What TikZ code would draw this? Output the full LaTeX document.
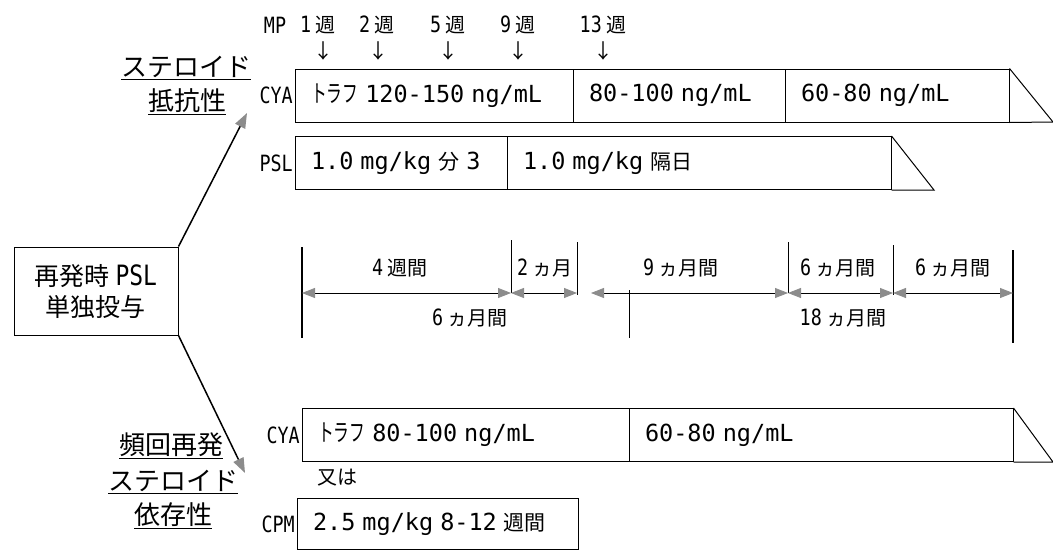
\documentclass[tikz,border=0pt]{standalone}
\usepackage{fontspec}
\usepackage{graphicx}
\setmainfont{Noto Sans CJK JP}
\newfontfamily\hw{DejaVu Sans Mono}[Scale=1.12]
\newfontfamily\hwn{DejaVu Sans Mono}[FakeStretch=0.82,Scale=1.12]
\newcommand{\narrowkana}[1]{\scalebox{0.75}[1.15]{#1}}
\usepackage{xcolor}
\definecolor{Col1}{RGB}{0,0,0}
\definecolor{Col2}{RGB}{140,140,140}
\usetikzlibrary{arrows.meta}
\tikzstyle{Cell}=[draw=Col1,line width=1pt,inner xsep=16pt,inner ysep=0pt,
align=left,minimum height=53pt,font=\fontsize{21}{24}\selectfont]
\tikzstyle{Edge}=[draw=Col1,line width=1pt]
\tikzstyle{Drug}=[anchor=east,inner sep=1.5pt,font=\fontsize{20}{22}\selectfont\hwn]
\tikzstyle{Week}=[inner sep=0pt,font=\fontsize{20}{22}\selectfont]
\tikzstyle{Span}=[inner sep=0pt,font=\fontsize{20}{22}\selectfont]
\tikzstyle{Group}=[inner sep=0pt,font=\fontsize{26}{30}\selectfont]
\tikzstyle{Dim}=[draw=Col1,line width=.8pt,
{Triangle[length=13pt,width=10pt,color=Col2]}-{Triangle[length=13pt,width=10pt,color=Col2]}]
\tikzstyle{Branch}=[draw=Col1,line width=1.5pt,-{Triangle[length=15pt,width=11pt,color=Col2]}]

\begin{document}
\begin{tikzpicture}[x=1pt,y=-1pt]
        \useasboundingbox(0,0)rectangle(1053,552);
        \node[Week](mp)at(275,25){\hwn MP};
        \node[Week](w1)at(318,25){{\hwn 1} 週};
        \node[Week](w2)at(377,25){{\hwn 2} 週};
        \node[Week](w5)at(448,25){{\hwn 5} 週};
        \node[Week](w9)at(518,25){{\hwn 9} 週};
        \node[Week](w13)at(603,25){{\hwn 13} 週};
        \node[Week](d1)at(323,51){↓};
        \node[Week](d2)at(378,51){↓};
        \node[Week](d5)at(448,51){↓};
        \node[Week](d9)at(518,51){↓};
        \node[Week](d13)at(603,51){↓};
        \node[Cell,text width=246pt](c1)at(434,95.5)
            {\narrowkana{トラフ} {\hw 120-150 ng/mL}};
        \node[Cell,text width=180pt](c2)at(679,95.5){\hw 80-100 ng/mL};
        \node[Cell,text width=192pt](c3)at(897,95.5){\hw 60-80 ng/mL};
        \coordinate(e1)at(1053,122);
        \draw[Edge](c3.north east)--(e1)--(c3.south east);
        \node[Cell,text width=180pt](p1)at(401,163){{\hw 1.0 mg/kg} 分 {\hw 3}};
        \node[Cell,text width=352pt](p2)at(699,163){{\hw 1.0 mg/kg} 隔日};
        \coordinate(e2)at(934,190);
        \draw[Edge](p2.north east)--(e2)--(p2.south east);
        \node[Drug](cya1)at(c1.west){CYA};
        \node[Drug](psl)at(p1.west){PSL};
        \node[Group](r1)at(186,68){\underline{ステロイド}};
        \node[Group](r2)at(187,102){\underline{抵抗性}};
        \node[draw=Col1,line width=1pt,minimum width=164pt,minimum height=88pt,
            align=center,font=\fontsize{25}{31}\selectfont](start)at(96,291)
            {再発時 {\hwn PSL}\\単独投与};
        \coordinate(up)at(247,113);
        \coordinate(dn)at(245,473);
        \draw[Branch](start.north east)--(up);
        \draw[Branch](start.south east)--(dn);
        \coordinate(t0)at(302,293);
        \coordinate(t1)at(511,293);
        \coordinate(t2)at(577,293);
        \coordinate(t2b)at(591,293);
        \coordinate(t3)at(629,293);
        \coordinate(t4)at(788,293);
        \coordinate(t5)at(893,293);
        \coordinate(t6)at(1013,293);
        \draw[Edge,line width=1.3pt](t0)++(0,-46)--++(0,91);
        \draw[Edge](t1)++(0,-53)--++(0,53);
        \draw[Edge](t2)++(0,-51)--++(0,53);
        \draw[Edge](t3)++(0,-3)--++(0,48);
        \draw[Edge](t4)++(0,-51)--++(0,51);
        \draw[Edge](t5)++(0,-48)--++(0,50);
        \draw[Edge,line width=1.3pt](t6)++(0,-43)--++(0,93);
        \draw[Dim](t0)--(t1);
        \draw[Dim](t1)--(t2);
        \draw[Dim](t2b)--(t4);
        \draw[Dim](t4)--(t5);
        \draw[Dim](t5)--(t6);
        \node[Span](s1)at(400,268){{\hwn 4} 週間};
        \node[Span](s2)at(545,268){{\hwn 2} ヵ月};
        \node[Span](s3)at(681,268){{\hwn 9} ヵ月間};
        \node[Span](s4)at(838,268){{\hwn 6} ヵ月間};
        \node[Span](s5)at(953,268){{\hwn 6} ヵ月間};
        \node[Span](s6)at(470,318){{\hwn 6} ヵ月間};
        \node[Span](s7)at(843,318){{\hwn 18} ヵ月間};
        \node[Cell,text width=295pt](b1)at(465.5,435)
            {\narrowkana{トラフ} {\hw 80-100 ng/mL}};
        \node[Cell,text width=352pt](b2)at(821,435){\hw 60-80 ng/mL};
        \coordinate(e3)at(1053,462);
        \draw[Edge](b2.north east)--(e3)--(b2.south east);
        \node[Drug](cya2)at(b1.west){CYA};
        \node[Week](or)at(337,478){又は};
        \node[Cell,text width=249pt,minimum height=51pt](cpm)at(437.5,524)
            {{\hw 2.5 mg/kg 8-12} 週間};
        \node[Drug](cpmL)at(cpm.west){CPM};
        \node[Group](f1)at(171,446){\underline{頻回再発}};
        \node[Group](f2)at(173,482){\underline{ステロイド}};
        \node[Group](f3)at(173,516){\underline{依存性}};
    \end{tikzpicture}
\end{document}
